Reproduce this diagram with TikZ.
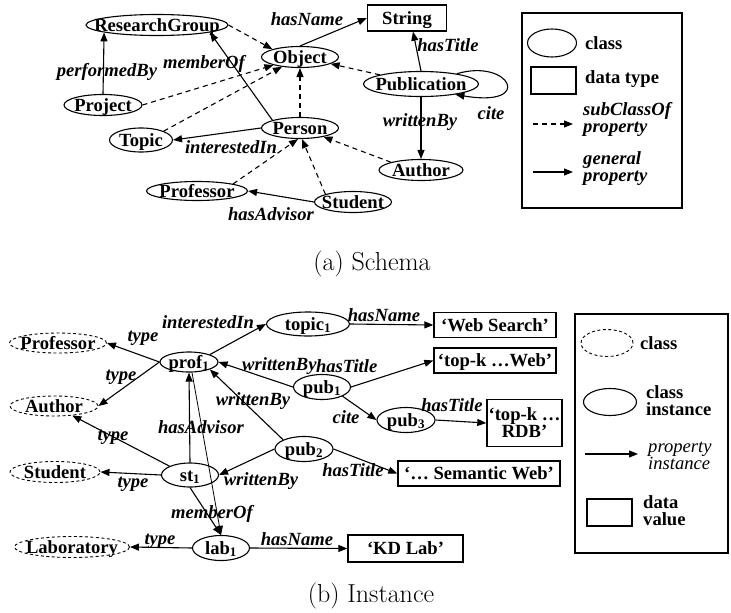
\documentclass[tikz,border=0pt]{standalone}
\usepackage{fontspec}
\usetikzlibrary{shapes.geometric,arrows.meta}
\newfontfamily\tnr{Liberation Serif}
\newcommand{\zb}[1]{\makebox[0pt]{#1}}
\newcommand{\subone}{\textsubscript{1}}
\tikzset{
 nfont/.style={font=\tnr\bfseries\fontsize{18.6}{17}\selectfont},
 cls/.style={ellipse, draw, line width=1.1pt, inner sep=0pt, text height=12pt, text depth=0pt, nfont},
 dcls/.style={cls, line width=0.9pt, dash pattern=on 3pt off 2.5pt},
 boxbase/.style={rectangle, draw, line width=1.4pt, inner sep=0pt, nfont},
 box/.style={boxbase, text height=12pt, text depth=0pt},
 lbl/.style={inner sep=0pt, font=\tnr\bfseries\itshape\fontsize{18.6}{17}\selectfont},
 lgt/.style={inner sep=0pt, nfont, align=left},
 gp/.style={line width=1.1pt, -{Triangle[length=9pt,width=7pt]}},
 sc/.style={gp, dash pattern=on 5pt off 4pt},
 legbox/.style={rectangle, draw, line width=1.3pt, inner sep=0pt},
}
\begin{document}
\begin{tikzpicture}[x=1pt,y=-1pt]
\useasboundingbox (0,0) rectangle (731,613);

% ---------- (a) Schema ----------
\node[cls, minimum width=142pt, minimum height=21pt] (RG) at (157,25) {\zb{ResearchGroup}};
\node[cls, minimum width=77pt, minimum height=21pt] (Obj) at (300,57) {\zb{Object}};
\node[box, minimum width=79pt, minimum height=26pt] (Str) at (407,18) {String};
\node[cls, minimum width=115pt, minimum height=25pt] (Pub) at (421,84) {\zb{Publication}};
\node[cls, minimum width=78pt, minimum height=21pt] (Proj) at (103,105) {\zb{Project}};
\node[cls, minimum width=63pt, minimum height=24pt] (Top) at (141,140) {\zb{Topic}};
\node[cls, minimum width=77pt, minimum height=21pt] (Per) at (300,128) {\zb{Person}};
\node[cls, minimum width=84pt, minimum height=21pt] (Aut) at (421,170) {\zb{Author}};
\node[cls, minimum width=101pt, minimum height=19pt] (Prof) at (197,191) {\zb{Professor}};
\node[cls, minimum width=77pt, minimum height=21pt] (Stu) at (353,202) {\zb{Student}};

\draw[sc] (RG.east) -- (Obj.north west);
\draw[gp] (Obj.north) -- (Str.west);
\draw[gp] (Pub.north) -- ([xshift=6pt]Str.south);
\draw[gp] (Pub.16) .. controls (510,58) and (535,108) .. (Pub.-17);
\draw[sc] (Pub) -- (Obj);
\draw[gp] (Pub.south) -- (Aut.north);
\draw[gp] (Proj.north) -- (RG.188);
\draw[sc] (Proj.east) -- (Obj);
\draw[sc] (Top.north east) -- (Obj);
\draw[gp] (Per.north west) -- (RG.-8);
\draw[sc] (Per.north) -- (Obj.south);
\draw[gp] (Per.west) -- (Top.east);
\draw[sc] (Aut.north west) -- (Per);
\draw[sc] (Prof.north east) -- ([xshift=-2pt]Per.south);
\draw[sc] (Stu.north west) -- ([xshift=2pt]Per.south);
\draw[gp] (Stu.west) -- (Prof.east);

\node[lbl] (lHN) at (307,19) {hasName};
\node[lbl] (lHT) at (448,45) {hasTitle};
\node[lbl] (lCite) at (491,113) {cite};
\node[lbl] (lWB) at (420,122) {writtenBy};
\node[lbl] (lPB) at (107,72) {performedBy};
\node[lbl] (lMO) at (204,64) {memberOf};
\node[lbl] (lII) at (231,147) {interestedIn};
\node[lbl] (lHA) at (271,214) {hasAdvisor};

% legend (a)
\node[legbox, minimum width=160pt, minimum height=195pt] (LA) at (602,110.5) {};
\node[cls, minimum width=49pt, minimum height=28pt] (LAc) at (552,43) {};
\node[lgt, anchor=west] (LAct) at (585,43) {class};
\node[box, minimum width=45pt, minimum height=27pt] (LAd) at (553.5,80.5) {};
\node[lgt, anchor=west] (LAdt) at (585,79) {data type};
\coordinate (LAs1) at (533,124);
\coordinate (LAs2) at (573,124);
\draw[sc] (LAs1) -- (LAs2);
\node[lbl, anchor=west, align=left] (LAst) at (583,119) {subClassOf\\property};
\coordinate (LAg1) at (533,172);
\coordinate (LAg2) at (573,172);
\draw[gp] (LAg1) -- (LAg2);
\node[lbl, anchor=west, align=left] (LAgt) at (583,169) {general\\property};

\node[font=\fontsize{26}{30}\selectfont] (capA) at (372,264) {(a) Schema};

% ---------- (b) Instance ----------
\node[dcls, minimum width=97pt, minimum height=20pt] (cProf) at (58,343) {\zb{Professor}};
\node[dcls, minimum width=88pt, minimum height=20pt] (cAut) at (54,406) {\zb{Author}};
\node[dcls, minimum width=90pt, minimum height=21pt] (cStu) at (55,472) {\zb{Student}};
\node[dcls, minimum width=115pt, minimum height=21pt] (cLab) at (72,547) {\zb{Laboratory}};
\node[cls, minimum width=58pt, minimum height=20pt] (prof) at (189,362) {\zb{prof\subone}};
\node[cls, minimum width=83pt, minimum height=24pt] (topic) at (308,324) {\zb{topic\subone}};
\node[cls, minimum width=57pt, minimum height=25pt] (pubA) at (322,387) {\zb{pub\subone}};
\node[cls, minimum width=58pt, minimum height=25pt] (pubC) at (406,420) {\zb{pub\textsubscript{3}}};
\node[cls, minimum width=58pt, minimum height=25pt] (pubB) at (304,449) {\zb{pub\textsubscript{2}}};
\node[cls, minimum width=57pt, minimum height=24pt] (st) at (190,475) {\zb{st\subone}};
\node[cls, minimum width=57pt, minimum height=25pt] (lab) at (221,548) {\zb{lab\subone}};

\node[box, minimum width=122pt, minimum height=25pt] (WS) at (495,325) {‘Web Search’};
\node[box, minimum width=122pt, minimum height=25pt] (TW) at (495,360.5) {‘top-k …Web’};
\node[boxbase, minimum width=75pt, minimum height=47pt, align=center] (TR) at (524.5,423) {‘top-k …\\RDB’};
\node[box, minimum width=162pt, minimum height=25pt] (SW) at (479,473.5) {‘… Semantic Web’};
\node[box, minimum width=115pt, minimum height=27pt] (KD) at (405.5,548.5) {‘KD Lab’};

\draw[gp] (prof.west) -- (cProf.east);
\draw[gp] (prof.west) -- (cAut.east);
\draw[gp] (st.north west) -- (cAut);
\draw[gp] (st.west) -- (cStu.east);
\draw[gp] (lab.west) -- (cLab.east);
\draw[gp] (prof.north east) -- (topic.west);
\draw[gp] (topic.east) -- (WS.west);
\draw[gp] (pubA.west) -- (prof.east);
\draw[gp] (pubA.east) -- (TW.west);
\draw[gp] (pubA.south east) -- (pubC.west);
\draw[gp] (pubC.east) -- (TR.west);
\draw[gp] (pubB.north west) -- (prof.south east);
\draw[gp] (pubB.west) -- (st.east);
\draw[gp] (pubB.east) -- (SW.west);
\draw[gp] (st.north) -- (prof.south);
\draw[gp, line width=0.8pt] ([xshift=3pt]prof.south) -- (lab.north);
\draw[gp] (st.south) -- (lab.north);
\draw[gp] (lab.east) -- (KD.west);

\node[lbl] (t1) at (143,338) {type};
\node[lbl] (t2) at (121,377) {type};
\node[lbl] (t3) at (113,437) {type};
\node[lbl] (t4) at (133,484) {type};
\node[lbl] (t5) at (160,541) {type};
\node[lbl] (bII) at (208,322) {interestedIn};
\node[lbl] (bHN1) at (384,315) {hasName};
\node[lbl, anchor=west] (bWB1) at (242,366) {writtenBy};
\node[lbl, anchor=west] (bHT1) at ([xshift=-1pt]bWB1.east) {hasTitle};
\node[lbl] (bCite) at (346,417) {cite};
\node[lbl] (bHT3) at (452,405) {hasTitle};
\node[lbl] (bWB2) at (253,401) {writtenBy};
\node[lbl] (bWB3) at (261,481) {writtenBy};
\node[lbl] (bHT2) at (353,470) {hasTitle};
\node[lbl] (bHA) at (201,427) {hasAdvisor};
\node[lbl] (bMO) at (212,514) {memberOf};
\node[lbl] (bHN2) at (297,539) {hasName};

% legend (b)
\node[legbox, minimum width=153pt, minimum height=239pt] (LB) at (651.5,433.5) {};
\node[dcls, minimum width=52pt, minimum height=27pt] (LBc) at (607,343) {};
\node[lgt, anchor=west] (LBct) at (640,343) {class};
\node[cls, minimum width=53pt, minimum height=27pt] (LBi) at (610,402) {};
\node[lgt, anchor=west] (LBit) at (646,401) {class\\instance};
\coordinate (LBp1) at (585,454);
\coordinate (LBp2) at (638,454);
\draw[gp] (LBp1) -- (LBp2);
\node[lbl, font=\tnr\itshape\fontsize{18.6}{17}\selectfont, anchor=west, align=left] (LBpt) at (648,456) {property\\instance};
\node[box, minimum width=45pt, minimum height=27pt] (LBd) at (609.5,512.5) {};
\node[lgt, anchor=west] (LBdt) at (643,511) {data\\value};

\node[font=\fontsize{26}{30}\selectfont] (capB) at (371,596) {(b) Instance};
\end{tikzpicture}
\end{document}
